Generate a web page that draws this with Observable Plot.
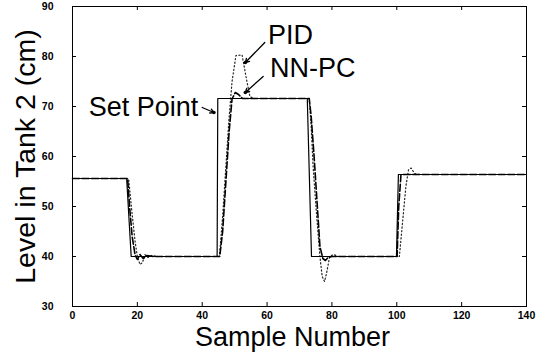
<!DOCTYPE html>
<html>
<head>
<meta charset="utf-8">
<script src="https://cdn.jsdelivr.net/npm/d3@7"></script>
<script src="https://cdn.jsdelivr.net/npm/@observablehq/plot@0.6"></script>
<style>
  html, body { margin: 0; padding: 0; background: white; }
  #chart svg text { fill: black; }
  #chart [aria-label="x-axis tick label"] text,
  #chart [aria-label="y-axis tick label"] text { font-weight: bold; }
</style>
</head>
<body>
<div id="chart"></div>
<script>
// ---- data ----
const xTicks = [0, 20, 40, 60, 80, 100, 120, 140];
const yTicks = [30, 40, 50, 60, 70, 80, 90];

// Set point (solid)
const setPoint = [
  [0, 55.6], [16.7, 55.6], [18.1, 40], [44.6, 40], [44.8, 71.6],
  [72.4, 71.6], [73.7, 40], [99.9, 40], [100.5, 56.4], [140, 56.4]
];

// NN-PC response (dashed)
const nnpc = [
  [0, 55.6], [17, 55.6], [17.6, 50], [18.4, 44], [19.3, 40.3], [20, 39.4],
  [20.8, 40.4], [21.8, 39.6], [23, 40.2], [25, 40], [45.4, 40], [46.3, 45],
  [47.3, 55], [48.3, 65], [49.2, 71.5], [50.2, 72.8], [51.2, 72.4], [52.4, 71.6],
  [73, 71.6], [73.6, 68], [74.5, 60], [75.5, 50], [76.3, 42], [77.2, 39.6],
  [78, 39.2], [78.8, 39.8], [80, 40], [100.1, 40], [100.6, 50], [101.3, 56.4],
  [140, 56.4]
];

// PID response (dotted)
const pid = [
  [0, 55.6], [17.3, 55.6], [18.3, 49], [19.3, 43], [20, 40], [20.8, 38.4],
  [21.6, 38.8], [22.3, 40.4], [23.3, 39.8], [24.5, 40.2], [26, 40], [45.3, 40],
  [46.3, 48], [47.3, 58], [48.2, 67], [49.2, 75], [50.4, 80.2], [52.3, 80.3],
  [53.5, 76], [54.7, 72], [55.8, 71.6], [73.0, 71.6], [73.6, 66], [74.2, 58],
  [75.3, 48], [76.3, 40], [77, 36], [77.7, 35], [78.3, 36.5], [79.3, 40],
  [80.5, 40.4], [82, 40], [100.8, 40], [101.8, 47], [102.8, 54], [103.6, 57.3],
  [104.4, 57.7], [105.5, 56.6], [107, 56.4], [140, 56.4]
];

// annotation labels and their arrows (data units)
const rightLabels = [
  {text: "PID", x: 60.3, y: 82.6},
  {text: "NN-PC", x: 60.9, y: 76.0}
];
const leftLabels = [
  {text: "Set Point", x: 38.8, y: 68.2}
];
const arrows = [
  {x1: 59.3, y1: 82.8, x2: 53.3, y2: 78.8},
  {x1: 58.8, y1: 76.0, x2: 53.3, y2: 72.8},
  {x1: 40.0, y1: 69.8, x2: 43.6, y2: 68.8}
];

const toObj = (arr) => arr.map(([x, y]) => ({x, y}));

const chart = Plot.plot({
  width: 546,
  height: 353,
  marginLeft: 72,
  marginRight: 20,
  marginTop: 6,
  marginBottom: 47,
  style: {background: "white", fontFamily: "'Liberation Sans', Arial, Helvetica, sans-serif", color: "black"},
  x: {domain: [0, 140]},
  y: {domain: [30, 90]},
  marks: [
    Plot.frame({stroke: "black", strokeWidth: 1}),
    Plot.axisX({ticks: xTicks, tickSize: 0, tickPadding: 5, label: null, fontSize: 10.5, fontWeight: "bold", tickFormat: d => d}),
    Plot.axisY({ticks: yTicks, tickSize: 0, tickPadding: 19, label: null, fontSize: 10.5, fontWeight: "bold", tickFormat: d => d}),
    // inward ticks on all four sides
    Plot.tickX(xTicks, {x: d => d, insetTop: 296, stroke: "black"}),
    Plot.tickX(xTicks, {x: d => d, insetBottom: 296, stroke: "black"}),
    Plot.tickY(yTicks, {y: d => d, insetRight: 450, stroke: "black"}),
    Plot.tickY(yTicks, {y: d => d, insetLeft: 450, stroke: "black"}),
    // series
    Plot.line(toObj(pid), {x: "x", y: "y", stroke: "#222", strokeWidth: 1.2, strokeDasharray: "1.2,2.4"}),
    Plot.line(toObj(nnpc), {x: "x", y: "y", stroke: "black", strokeWidth: 1.6, strokeDasharray: "7,2.5"}),
    Plot.line(toObj(setPoint), {x: "x", y: "y", stroke: "black", strokeWidth: 1.2}),
    // annotations
    Plot.arrow(arrows, {x1: "x1", y1: "y1", x2: "x2", y2: "y2", stroke: "black", strokeWidth: 1.3, headLength: 5}),
    Plot.dot(arrows, {x: "x2", y: "y2", r: 1.8, fill: "black", stroke: null}),
    Plot.text(rightLabels, {x: "x", y: "y", text: "text", textAnchor: "start", lineAnchor: "bottom", fontSize: 27, fill: "black"}),
    Plot.text(leftLabels, {x: "x", y: "y", text: "text", textAnchor: "end", lineAnchor: "bottom", fontSize: 27, fill: "black"}),
    // axis titles
    Plot.text(["Sample Number"], {frameAnchor: "bottom", textAnchor: "middle", lineAnchor: "bottom", dy: 39, dx: -7, fontSize: 27, fill: "black"}),
    Plot.text(["Level in Tank 2 (cm)"], {frameAnchor: "left", textAnchor: "middle", lineAnchor: "bottom", rotate: -90, dx: -38, fontSize: 28.5, fill: "black"})
  ]
});
document.getElementById("chart").appendChild(chart);
</script>
</body>
</html>
